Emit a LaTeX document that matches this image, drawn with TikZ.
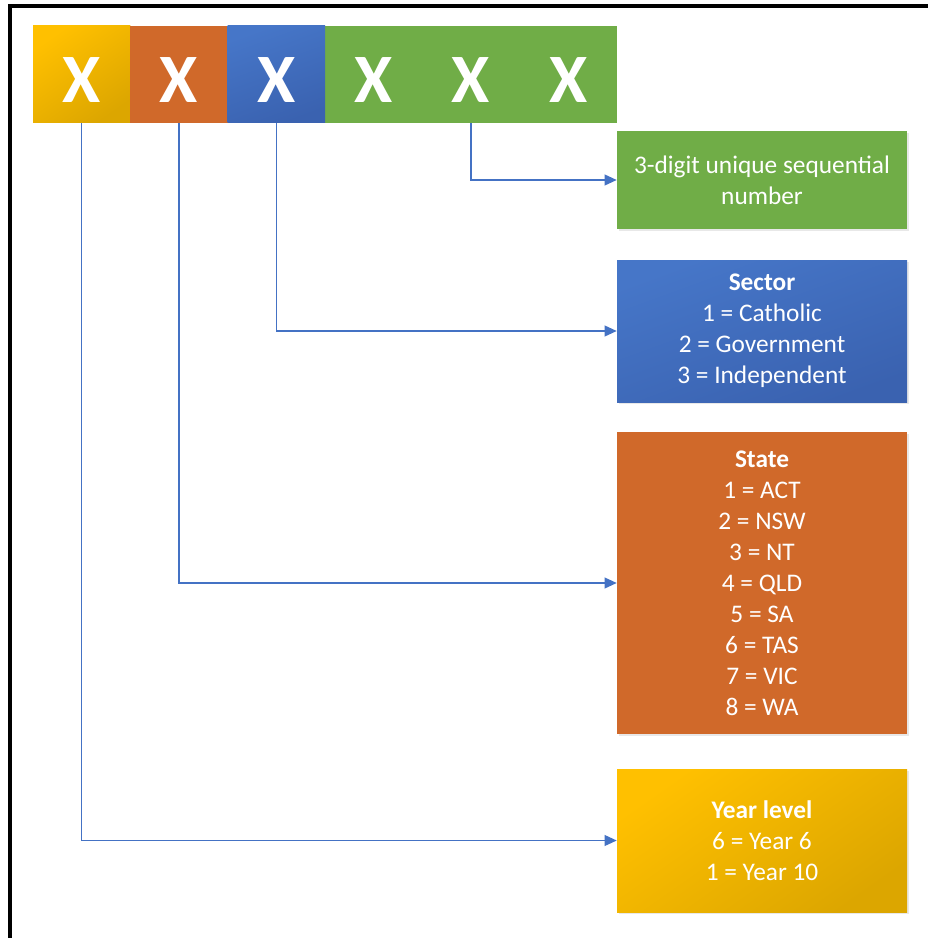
\documentclass[tikz,border=0pt]{standalone}
\usepackage{fontspec}
\setmainfont{Carlito}
\usetikzlibrary{arrows.meta,shadows}
\definecolor{yelA}{HTML}{FFC000}
\definecolor{yelB}{HTML}{DCA600}
\definecolor{orgA}{HTML}{D0692A}
\definecolor{bluA}{HTML}{4676C8}
\definecolor{bluB}{HTML}{3A62B0}
\definecolor{grnA}{HTML}{70AD47}
\definecolor{lineblue}{HTML}{4472C4}
\begin{document}
\begin{tikzpicture}[x=0.75pt,y=-0.75pt,
  cell/.style={minimum width=73pt, minimum height=72.75pt, inner sep=0pt, text=white,
    font=\fontsize{52}{52}\selectfont\bfseries, text height=41.5pt, text depth=0pt},
  infobox/.style={minimum width=217.5pt, inner sep=0pt, text=white, align=center,
    font=\fontsize{19}{23.25}\selectfont,
    drop shadow={opacity=0.18, shadow xshift=1.2pt, shadow yshift=-1.2pt}},
  yelfill/.style={top color=yelA, bottom color=yelB, shading angle=35},
  blufill/.style={top color=bluA, bottom color=bluB, shading angle=20},
  conn/.style={draw=lineblue, line width=1.2pt, -{Triangle[length=9pt,width=8pt]}}]
\useasboundingbox (0,0) rectangle (928,938);
\fill[white] (0,0) rectangle (928,938);
\draw[line width=2.4pt] (10,938) -- (10,6) -- (928,6);

% code bar
\fill[grnA] (325,26) rectangle (617,123);
\node[cell, yelfill] (d1) at (81.67,74.5) {X};
\node[cell, fill=orgA] (d2) at (179,74.5) {X};
\node[cell, blufill] (d3) at (276.33,74.5) {X};
\node[cell] (d4) at (373.67,74.5) {X};
\node[cell] (d5) at (471,74.5) {X};
\node[cell] (d6) at (568.33,74.5) {X};

% description boxes
\node[infobox, fill=grnA, minimum height=73.5pt] (seq) at (762,180)
  {3-digit unique sequential\\number};
\node[infobox, blufill, minimum height=106.5pt] (sector) at (762,331)
  {\textbf{Sector}\\1 = Catholic\\2 = Government\\3 = Independent};
\node[infobox, fill=orgA, minimum height=226.5pt] (state) at (762,583)
  {\textbf{State}\\1 = ACT\\2 = NSW\\3 = NT\\4 = QLD\\5 = SA\\6 = TAS\\7 = VIC\\8 = WA};
\node[infobox, yelfill, minimum height=107.25pt] (year) at (762,840.5)
  {\textbf{Year level}\\6 = Year 6\\1 = Year 10};

% connectors
\draw[conn] (d5.south) |- (seq.west);
\draw[conn] (d3.south) |- (sector.west);
\draw[conn] (d2.south) |- (state.west);
\draw[conn] (d1.south) |- (year.west);
\end{tikzpicture}
\end{document}
